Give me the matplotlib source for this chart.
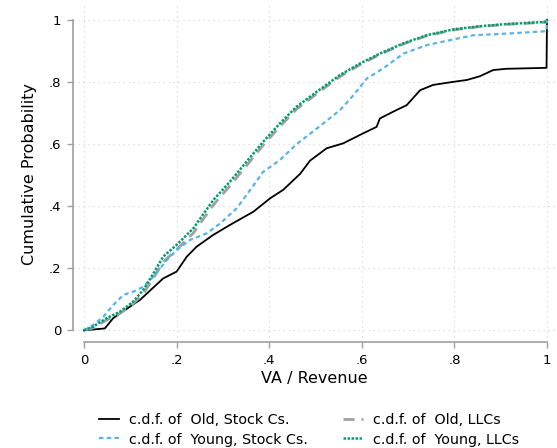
import numpy as np
import matplotlib
matplotlib.use('Agg')
import matplotlib.pyplot as plt

# Datos (c.d.f. de VA / Revenue)
x_old_stock = [0.0, 0.045, 0.063, 0.099, 0.121, 0.171, 0.2, 0.222, 0.243, 0.279, 0.315, 0.366,
               0.402, 0.43, 0.467, 0.488, 0.524, 0.56, 0.596, 0.632, 0.639, 0.668, 0.697, 0.726,
               0.754, 0.798, 0.827, 0.855, 0.884, 0.913, 0.999, 1.0]
y_old_stock = [0.0, 0.006, 0.039, 0.076, 0.098, 0.167, 0.189, 0.237, 0.269, 0.307, 0.339, 0.382,
               0.425, 0.452, 0.504, 0.546, 0.586, 0.602, 0.629, 0.655, 0.682, 0.704, 0.725, 0.773,
               0.79, 0.8, 0.806, 0.818, 0.838, 0.842, 0.845, 1.0]

x_young_stock = [0.0, 0.02, 0.042, 0.063, 0.085, 0.106, 0.128, 0.15, 0.179, 0.2, 0.229, 0.265,
                 0.294, 0.33, 0.359, 0.387, 0.423, 0.459, 0.51, 0.553, 0.582, 0.611, 0.646, 0.69,
                 0.74, 0.79, 0.841, 0.898, 0.999, 1.0]
y_young_stock = [0.0, 0.017, 0.044, 0.081, 0.114, 0.124, 0.14, 0.173, 0.226, 0.258, 0.291, 0.312,
                 0.344, 0.393, 0.452, 0.51, 0.548, 0.599, 0.658, 0.709, 0.757, 0.811, 0.843, 0.891,
                 0.918, 0.934, 0.95, 0.954, 0.963, 1.0]

x_young_llc = [0.0, 0.02, 0.049, 0.078, 0.106, 0.128, 0.15, 0.171, 0.2, 0.236, 0.279, 0.315, 0.351,
               0.387, 0.423, 0.459, 0.51, 0.553, 0.596, 0.639, 0.69, 0.74, 0.798, 0.855, 0.913,
               0.999, 1.0]
y_young_llc = [0.0, 0.012, 0.039, 0.06, 0.092, 0.13, 0.183, 0.237, 0.275, 0.328, 0.419, 0.478, 0.543,
               0.607, 0.666, 0.72, 0.776, 0.822, 0.859, 0.891, 0.924, 0.95, 0.969, 0.979, 0.986,
               0.993, 1.0]

x_old_llc = [0.0, 0.02, 0.049, 0.078, 0.106, 0.128, 0.15, 0.171, 0.2, 0.236, 0.279, 0.315, 0.351,
             0.387, 0.423, 0.459, 0.51, 0.553, 0.596, 0.639, 0.69, 0.74, 0.798, 0.855, 0.913,
             0.999, 1.0]
y_old_llc = [0.0, 0.008, 0.033, 0.055, 0.085, 0.118, 0.168, 0.22, 0.26, 0.313, 0.403, 0.465, 0.53,
             0.596, 0.656, 0.712, 0.77, 0.817, 0.855, 0.888, 0.922, 0.948, 0.967, 0.978, 0.985,
             0.992, 1.0]

ticks = [0, 0.2, 0.4, 0.6, 0.8, 1]
tick_labels = ['0', '.2', '.4', '.6', '.8', '1']

gris = '#a0a0a0'

fig = plt.figure(figsize=(5.57, 4.48), dpi=100)
ax = fig.add_axes([73 / 557, 1 - 342 / 448, (555 - 73) / 557, (342 - 6) / 448])

# Orden de dibujo como en Stata: la serie verde queda encima
l1, = ax.plot(x_old_stock, y_old_stock, color='black', lw=1.3, label='c.d.f. of  Old, Stock Cs.')
l2, = ax.plot(x_old_llc, y_old_llc, color=gris, lw=2.0, ls=(0, (4, 2.5)), label='c.d.f. of  Old, LLCs')
l3, = ax.plot(x_young_stock, y_young_stock, color='#56b4e9', lw=1.6, ls=(0, (2, 1.5)),
              label='c.d.f. of  Young, Stock Cs.')
l4, = ax.plot(x_young_llc, y_young_llc, color='#009e73', lw=1.8, ls=(0, (1, 0.6)),
              label='c.d.f. of  Young, LLCs')

ax.set_xlim((73 - 84) / 463, (555 - 84) / 463)
ax.set_ylim((330.3 - 342) / 310.6, (330.3 - 6) / 310.6)

ax.set_xticks(ticks)
ax.set_xticklabels(tick_labels)
ax.set_yticks(ticks)
ax.set_yticklabels(tick_labels)
ax.tick_params(axis='both', colors=gris, labelcolor='black', length=4.5, width=1.0,
               labelsize=9.5, pad=4)
ax.tick_params(axis='y', labelrotation=0)

for s in ['top', 'right']:
    ax.spines[s].set_visible(False)
for s in ['left', 'bottom']:
    ax.spines[s].set_color(gris)
    ax.spines[s].set_linewidth(1.2)
    ax.spines[s].set_bounds(0, 1)

ax.grid(True, color='#d8d8d8', lw=0.9, ls=(0, (1, 3)))
ax.set_axisbelow(True)

ax.set_xlabel('VA / Revenue', fontsize=11.5, labelpad=3)
ax.set_ylabel('Cumulative Probability', fontsize=11.5, labelpad=8)

fig.legend([l1, l3, l2, l4],
           [l1.get_label(), l3.get_label(), l2.get_label(), l4.get_label()],
           ncol=2, loc='center', bbox_to_anchor=(309 / 557, 1 - 430 / 448),
           frameon=False, fontsize=10.3, handlelength=1.4, handletextpad=0.7,
           columnspacing=2.5, labelspacing=0.35)

fig.savefig('out.png', dpi=100, facecolor='white')
